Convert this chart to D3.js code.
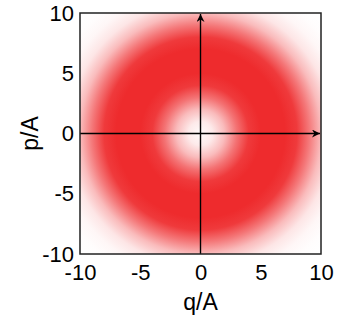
<!DOCTYPE html>
<html><head><meta charset="utf-8">
<script src="https://cdn.jsdelivr.net/npm/d3@7"></script>
<style>html,body{margin:0;padding:0;background:#fff;}svg{display:block;}</style>
</head><body>
<script>
// Radial intensity profile (radius in A units -> intensity 0..1)
const profileRadius = [0, 1, 2, 3, 4, 5, 6, 7, 8, 9, 10, 11, 12, 13, 14.2];
const profileIntensity = [0.02, 0.1, 0.32, 0.66, 0.93, 1, 1, 1, 0.93, 0.64, 0.32, 0.12, 0.04, 0.01, 0];
const xTicks = [-10, -5, 0, 5, 10];
const yTicks = [-10, -5, 0, 5, 10];
const xLabel = "q/A", yLabel = "p/A";

const W = 338, H = 323;
const svg = d3.select("body").append("svg").attr("width", W).attr("height", H);
const x = d3.scaleLinear().domain([-10, 10]).range([80, 321]);
const y = d3.scaleLinear().domain([-10, 10]).range([254, 13]);
const ringColor = "#ee2b2d";
const rMax = profileRadius[profileRadius.length - 1];
const fmt = d => String(d); // plain hyphen-minus as in the original

const defs = svg.append("defs");
defs.append("clipPath").attr("id", "clip").append("rect")
  .attr("x", x(-10)).attr("y", y(10)).attr("width", x(10) - x(-10)).attr("height", y(-10) - y(10));
const grad = defs.append("radialGradient").attr("id", "ring")
  .attr("gradientUnits", "userSpaceOnUse")
  .attr("cx", x(0)).attr("cy", y(0)).attr("r", x(rMax) - x(0));
grad.selectAll("stop").data(profileRadius).join("stop")
  .attr("offset", d => d / rMax)
  .attr("stop-color", ringColor)
  .attr("stop-opacity", (d, i) => profileIntensity[i]);
const mk = defs.append("marker").attr("id", "arr").attr("viewBox", "0 0 10 10")
  .attr("refX", 10).attr("refY", 5).attr("markerWidth", 10).attr("markerHeight", 8)
  .attr("markerUnits", "userSpaceOnUse").attr("orient", "auto");
mk.append("path").attr("d", "M0,0 L10,5 L0,10 L3,5 Z").attr("fill", "#000");

svg.append("g").attr("clip-path", "url(#clip)").append("circle")
  .attr("cx", x(0)).attr("cy", y(0)).attr("r", x(rMax) - x(0))
  .attr("fill", "url(#ring)");

// axis lines with arrows
svg.append("line").attr("x1", x(-10)).attr("x2", x(10) - 1).attr("y1", y(0)).attr("y2", y(0))
  .attr("stroke", "#000").attr("stroke-width", 1.4).attr("marker-end", "url(#arr)");
svg.append("line").attr("x1", x(0)).attr("x2", x(0)).attr("y1", y(-10)).attr("y2", y(10) + 1)
  .attr("stroke", "#000").attr("stroke-width", 1.4).attr("marker-end", "url(#arr)");

// frame
svg.append("rect").attr("x", x(-10)).attr("y", y(10)).attr("width", x(10) - x(-10)).attr("height", y(-10) - y(10))
  .attr("fill", "none").attr("stroke", "#222").attr("stroke-width", 1.5);

const font = "'Liberation Sans', Arial, sans-serif";
const xAxis = d3.axisBottom(x).tickValues(xTicks).tickSize(0).tickPadding(10).tickFormat(fmt);
const gx = svg.append("g").attr("transform", `translate(0,${y(-10)})`).call(xAxis);
gx.select(".domain").remove();
gx.selectAll("text").attr("font-family", font).attr("font-size", 22).attr("fill", "#000");
const yAxis = d3.axisLeft(y).tickValues(yTicks).tickSize(0).tickPadding(6).tickFormat(fmt);
const gy = svg.append("g").attr("transform", `translate(${x(-10)},0)`).call(yAxis);
gy.select(".domain").remove();
gy.selectAll("text").attr("font-family", font).attr("font-size", 22).attr("fill", "#000");

svg.append("text").attr("x", x(0)).attr("y", 310).attr("text-anchor", "middle")
  .attr("font-family", font).attr("font-size", 23).text(xLabel);
svg.append("text").attr("transform", `translate(38,${y(0)}) rotate(-90)`).attr("text-anchor", "middle")
  .attr("font-family", font).attr("font-size", 23).text(yLabel);
</script>
</body></html>
